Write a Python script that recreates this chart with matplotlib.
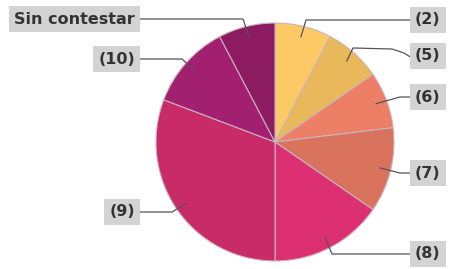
import numpy as np
import matplotlib.pyplot as plt

# answers, clockwise from the top
labels = ['(2)', '(5)', '(6)', '(7)', '(8)', '(9)', '(10)', 'Sin contestar']
counts = [2, 2, 2, 3, 4, 8, 3, 2]
colors = ['#FDC966', '#E9B85A', '#EC7F66', '#D9735E',
          '#DC3073', '#C82B67', '#A32070', '#8C1B62']

# layout in pixel coordinates (y down)
W, H = 454, 269
center = (275, 142)
radius = 119
text_pos = [(415, 20), (415, 56), (415, 97), (415, 173), (415, 254),
            (135, 212), (135, 59), (135, 19)]
leaders = [[(306, 20), (412, 20)],
           [(353, 48), (392, 49), (404, 53), (412, 58)],
           [(400, 97), (412, 97)],
           [(400, 173), (412, 173)],
           [(332, 254), (412, 254)],
           [(172, 212), (137, 212)],
           [(182, 59), (137, 59)],
           [(243, 19), (137, 19)]]

fig = plt.figure(figsize=(W / 100, H / 100), dpi=100)
ax = fig.add_axes([0, 0, 1, 1])
ax.axis('off')

wedges, _ = ax.pie(counts, colors=colors, center=center, radius=radius,
                   startangle=-90, counterclock=True,
                   wedgeprops=dict(edgecolor='#c9b3bd', linewidth=0.8))
ax.set_xlim(0, W)
ax.set_ylim(H, 0)

for w, lab, (tx, ty), pts in zip(wedges, labels, text_pos, leaders):
    mid = np.deg2rad((w.theta1 + w.theta2) / 2)
    x0 = center[0] + 0.91 * radius * np.cos(mid)
    y0 = center[1] + 0.91 * radius * np.sin(mid)
    xs = [x0] + [p[0] for p in pts]
    ys = [y0] + [p[1] for p in pts]
    ax.plot(xs, ys, color='#555555', linewidth=0.9, zorder=3)
    ha = 'left' if tx > center[0] else 'right'
    ax.text(tx, ty, lab, ha=ha, va='center', fontsize=11.5, fontweight='bold',
            color='#333333', zorder=4,
            bbox=dict(boxstyle='square,pad=0.32', facecolor='#d3d3d3',
                      edgecolor='none'))

fig.savefig('out.png', dpi=100)
